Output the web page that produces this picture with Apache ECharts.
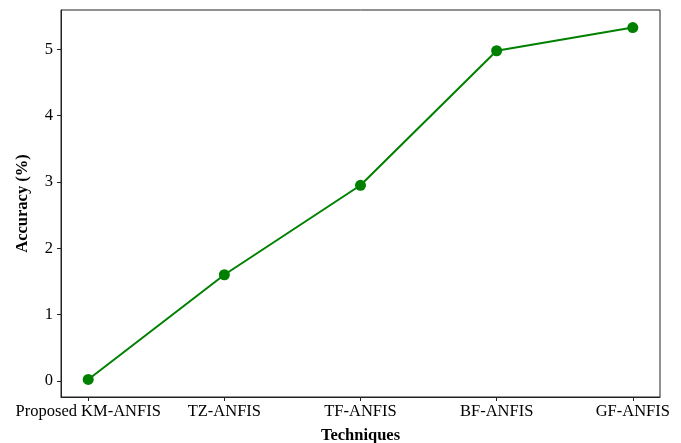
<!DOCTYPE html>
<html>
<head>
<meta charset="utf-8">
<script src="https://cdn.jsdelivr.net/npm/echarts@6/dist/echarts.min.js"></script>
<style>
  html, body { margin: 0; padding: 0; background: #fff; }
  #chart { width: 681px; height: 443px; }
</style>
</head>
<body>
<div id="chart"></div>
<script>
// Techniques compared and their accuracy values
const techniques = ['Proposed KM-ANFIS', 'TZ-ANFIS', 'TF-ANFIS', 'BF-ANFIS', 'GF-ANFIS'];
const accuracy = [0.02, 1.60, 2.95, 4.98, 5.33];
const yTicks = [0, 1, 2, 3, 4, 5];

const positions = techniques.map((_, i) => i);
const points = accuracy.map((v, i) => [positions[i], v]);

const font = 'Liberation Serif, Times New Roman, serif';
const chart = echarts.init(document.getElementById('chart'));
chart.setOption({
  animation: false,
  grid: {
    left: 61, right: 21, top: 10, bottom: 46,
    outerBoundsMode: 'none',
    containLabel: false,
    show: true, borderColor: '#222', borderWidth: 1, backgroundColor: '#fff'
  },
  xAxis: {
    type: 'value',
    min: -0.2, max: positions.length - 1 + 0.2,
    name: 'Techniques',
    nameLocation: 'middle',
    nameGap: 30,
    nameTextStyle: { fontFamily: font, fontWeight: 'bold', fontSize: 16.5, color: '#000' },
    axisLine: { show: true, onZero: false, lineStyle: { color: '#222' } },
    axisTick: { show: true, length: 4, customValues: positions, lineStyle: { color: '#222' } },
    axisLabel: {
      customValues: positions,
      margin: 6,
      fontFamily: font, fontSize: 16.5, color: '#000',
      formatter: v => techniques[Math.round(v)]
    },
    splitLine: { show: false }
  },
  yAxis: {
    type: 'value',
    min: -0.245, max: 5.595,
    name: 'Accuracy (%)',
    nameLocation: 'middle',
    nameGap: 30,
    nameTextStyle: { fontFamily: font, fontWeight: 'bold', fontSize: 16.5, color: '#000' },
    axisLine: { show: true, onZero: false, lineStyle: { color: '#222' } },
    axisTick: { show: true, length: 4, customValues: yTicks, lineStyle: { color: '#222' } },
    axisLabel: {
      customValues: yTicks,
      margin: 8,
      fontFamily: font, fontSize: 16.5, color: '#000'
    },
    splitLine: { show: false }
  },
  series: [{
    type: 'line',
    data: points,
    color: '#008000',
    lineStyle: { color: '#008000', width: 2 },
    symbol: 'circle',
    symbolSize: 11,
    itemStyle: { color: '#008000' }
  }]
});
</script>
</body>
</html>
